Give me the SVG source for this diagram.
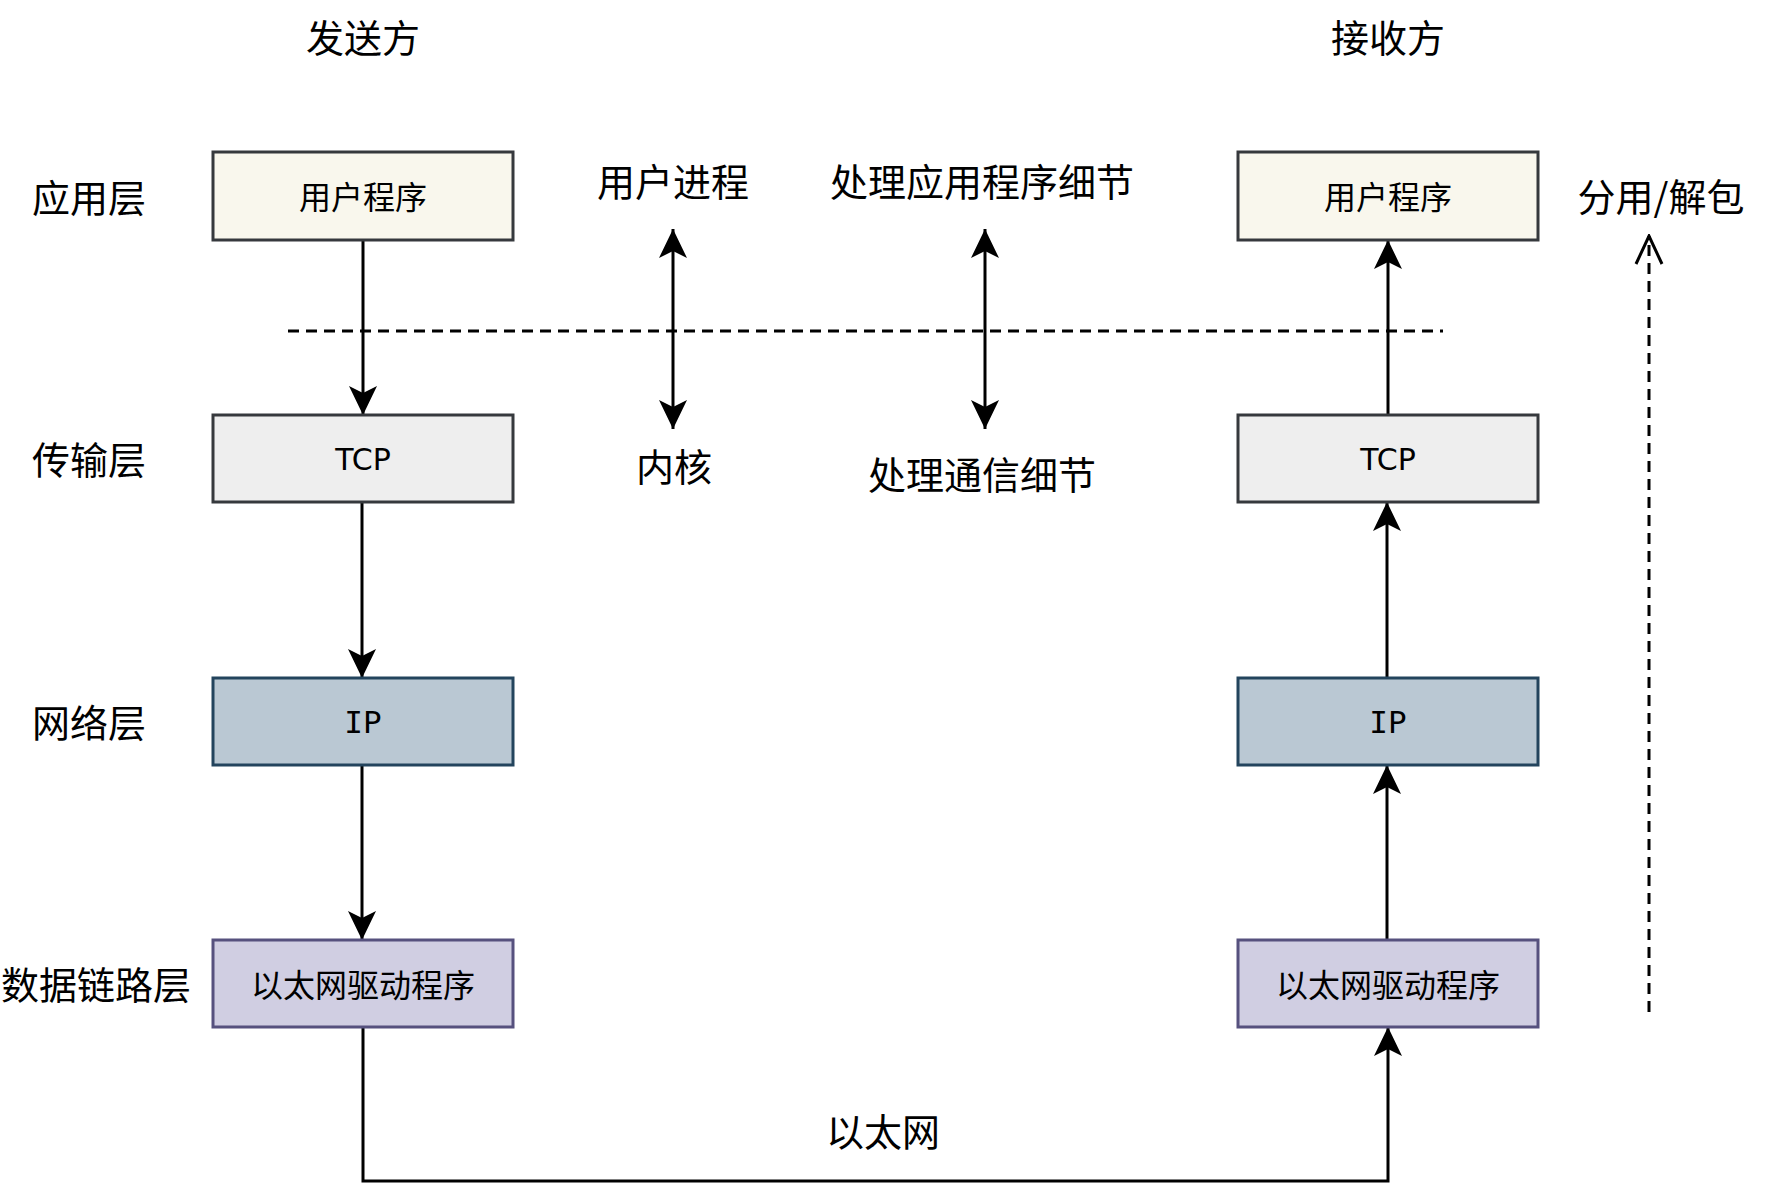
<svg xmlns="http://www.w3.org/2000/svg" width="1770" height="1200" viewBox="0 0 1770 1200">
<defs>
<style>
.lbl{font-family:"Noto Sans CJK SC","Noto Sans",sans-serif;font-size:38px;fill:#000;text-anchor:middle;dominant-baseline:central}
.bt{font-family:"Noto Sans CJK SC","Noto Sans",sans-serif;font-size:32px;fill:#000;text-anchor:middle;dominant-baseline:central}
.tcp{font-family:"DejaVu Sans",sans-serif;font-size:30px;fill:#000;text-anchor:middle;dominant-baseline:central}
.ip{font-family:"DejaVu Sans Mono",monospace;font-size:31px;fill:#000;text-anchor:middle;dominant-baseline:central}
.box{stroke-width:3}
.app{fill:#f9f7ed;stroke:#36393d}
.trn{fill:#eeeeee;stroke:#36393d}
.net{fill:#bac8d3;stroke:#23445d}
.eth{fill:#d0cee2;stroke:#56517e}
.ln{fill:none;stroke:#000;stroke-width:3}
.dash{fill:none;stroke:#000;stroke-width:3;stroke-dasharray:11 7}
</style>
<marker id="arr" markerUnits="userSpaceOnUse" markerWidth="32" markerHeight="32" viewBox="-30 -16 32 32" refX="0" refY="0" orient="auto-start-reverse">
<path d="M0,0 L-29,-14 L-22,0 L-29,14 Z" fill="#000"/>
</marker>
<marker id="open" markerUnits="userSpaceOnUse" markerWidth="32" markerHeight="32" viewBox="-30 -16 32 32" refX="0" refY="0" orient="auto">
<path d="M-28,-13 L0,0 L-28,13" fill="none" stroke="#000" stroke-width="3"/>
</marker>
</defs>
<rect width="1770" height="1200" fill="#fff"/>

<g id="labels">
<text class="lbl" x="363" y="35">发送方</text>
<text class="lbl" x="1388" y="35">接收方</text>
<text class="lbl" x="89" y="195">应用层</text>
<text class="lbl" x="89" y="457">传输层</text>
<text class="lbl" x="89" y="720">网络层</text>
<text class="lbl" x="96" y="982">数据链路层</text>
<text class="lbl" x="673" y="179">用户进程</text>
<text class="lbl" x="982" y="179">处理应用程序细节</text>
<text class="lbl" x="674" y="464">内核</text>
<text class="lbl" x="982" y="472">处理通信细节</text>
<text class="lbl" x="1661" y="194">分用/解包</text>
<text class="lbl" x="883" y="1129">以太网</text>
</g>

<g id="connectors">
<line class="dash" x1="288" y1="331" x2="1443" y2="331"/>
<line class="ln" x1="363" y1="240" x2="363" y2="415" marker-end="url(#arr)"/>
<line class="ln" x1="362" y1="502" x2="362" y2="678" marker-end="url(#arr)"/>
<line class="ln" x1="362" y1="765" x2="362" y2="940" marker-end="url(#arr)"/>
<path class="ln" d="M363,1027 V1181 H1388 V1027" marker-end="url(#arr)"/>
<line class="ln" x1="1387" y1="940" x2="1387" y2="765" marker-end="url(#arr)"/>
<line class="ln" x1="1387" y1="678" x2="1387" y2="502" marker-end="url(#arr)"/>
<line class="ln" x1="1388" y1="415" x2="1388" y2="240" marker-end="url(#arr)"/>
<line class="ln" x1="673" y1="229" x2="673" y2="429" marker-start="url(#arr)" marker-end="url(#arr)"/>
<line class="ln" x1="985" y1="229" x2="985" y2="429" marker-start="url(#arr)" marker-end="url(#arr)"/>
<line class="dash" x1="1649" y1="1012" x2="1649" y2="236" marker-end="url(#open)"/>
</g>

<g id="send-app"><rect class="box app" x="213" y="152" width="300" height="88"/><text class="bt" x="363" y="195">用户程序</text></g>
<g id="send-tcp"><rect class="box trn" x="213" y="415" width="300" height="87"/><text class="tcp" x="363" y="459">TCP</text></g>
<g id="send-ip"><rect class="box net" x="213" y="678" width="300" height="87"/><text class="ip" x="363" y="722">IP</text></g>
<g id="send-eth"><rect class="box eth" x="213" y="940" width="300" height="87"/><text class="bt" x="363" y="983">以太网驱动程序</text></g>

<g id="recv-app"><rect class="box app" x="1238" y="152" width="300" height="88"/><text class="bt" x="1388" y="195">用户程序</text></g>
<g id="recv-tcp"><rect class="box trn" x="1238" y="415" width="300" height="87"/><text class="tcp" x="1388" y="459">TCP</text></g>
<g id="recv-ip"><rect class="box net" x="1238" y="678" width="300" height="87"/><text class="ip" x="1388" y="722">IP</text></g>
<g id="recv-eth"><rect class="box eth" x="1238" y="940" width="300" height="87"/><text class="bt" x="1388" y="983">以太网驱动程序</text></g>
</svg>
